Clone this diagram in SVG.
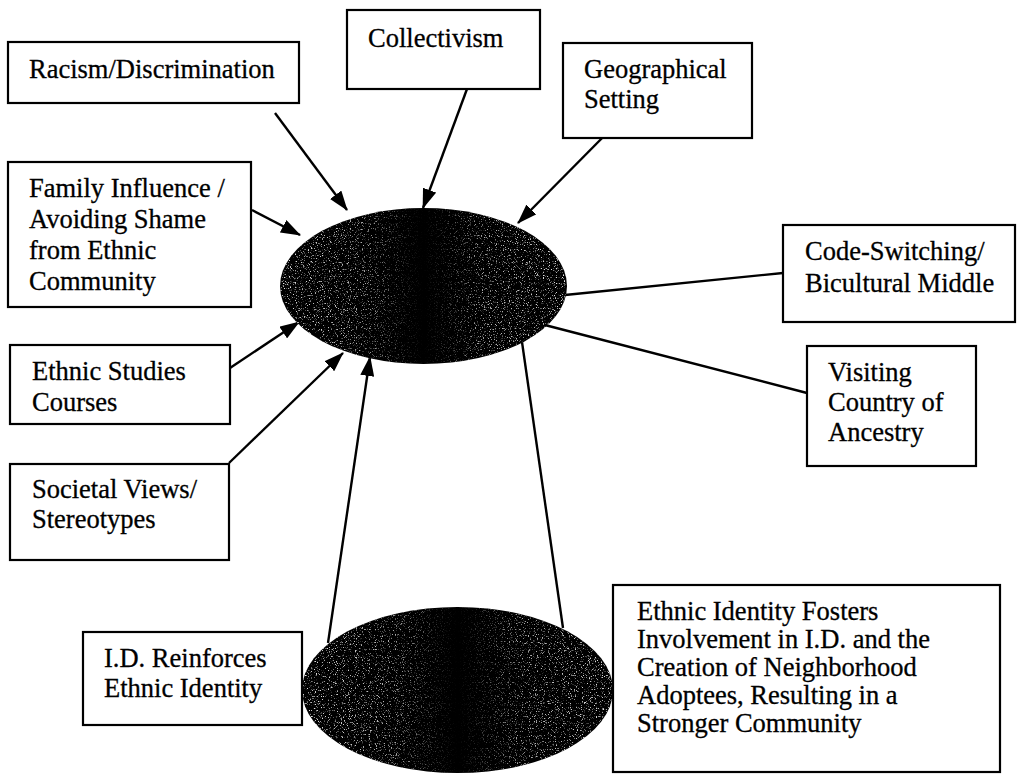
<svg xmlns="http://www.w3.org/2000/svg" width="1019" height="775" viewBox="0 0 1019 775">
<style>
  .box { fill: #ffffff; stroke: #000000; stroke-width: 2.2; }
  .lbl { font-family: "Liberation Serif", "Times New Roman", serif; font-size: 26.5px; fill: #000000; stroke: #000000; stroke-width: 0.3; }
  .con { stroke: #000000; stroke-width: 2.4; fill: none; }
  .arr { marker-end: url(#head); }
</style>
<defs>
  <marker id="head" viewBox="0 0 20 14" refX="19" refY="7" markerWidth="20" markerHeight="14" markerUnits="userSpaceOnUse" orient="auto">
    <path d="M0,0 L20,7 L0,14 z" fill="#000000"/>
  </marker>
  <linearGradient id="side" x1="0" y1="0" x2="1" y2="0">
    <stop offset="0" stop-color="#ffffff"/>
    <stop offset="0.3" stop-color="#bbbbbb"/>
    <stop offset="0.5" stop-color="#000000"/>
    <stop offset="0.7" stop-color="#bbbbbb"/>
    <stop offset="1" stop-color="#ffffff"/>
  </linearGradient>
  <mask id="sideMask" maskContentUnits="objectBoundingBox">
    <rect x="0" y="0" width="1" height="1" fill="url(#side)"/>
  </mask>
  <filter id="grain" x="0" y="0" width="100%" height="100%">
    <feTurbulence type="fractalNoise" baseFrequency="0.85" numOctaves="2" seed="7" result="t"/>
    <feColorMatrix in="t" type="matrix" values="0 0 0 0 0.8  0 0 0 0 0.8  0 0 0 0 0.8  6 0 0 0 -3.5" result="s"/>
    <feComposite in="s" in2="SourceGraphic" operator="in"/>
  </filter>
</defs>

<g id="connectors">
  <line class="con arr" x1="275" y1="113" x2="347" y2="210"/>
  <line class="con arr" x1="467" y1="89" x2="423" y2="208"/>
  <line class="con arr" x1="613" y1="127" x2="518" y2="223"/>
  <line class="con arr" x1="252" y1="210" x2="300" y2="235"/>
  <line class="con arr" x1="230" y1="368" x2="299" y2="322"/>
  <line class="con arr" x1="229" y1="463" x2="343" y2="353"/>
  <line class="con arr" x1="328" y1="643" x2="370" y2="357"/>
  <line class="con" x1="563" y1="628" x2="522" y2="342"/>
  <line class="con" x1="565" y1="295" x2="783" y2="273"/>
  <line class="con" x1="541" y1="324" x2="807" y2="393"/>
</g>

<g id="ethnic-identity-top">
  <ellipse cx="423.5" cy="286" rx="143.5" ry="78" fill="#000000"/>
  <g mask="url(#sideMask)">
    <ellipse cx="423.5" cy="286" rx="143.5" ry="78" fill="#000000" filter="url(#grain)"/>
  </g>
</g>

<g id="community-bottom">
  <ellipse cx="457.5" cy="690" rx="155.5" ry="83" fill="#000000"/>
  <g mask="url(#sideMask)">
    <ellipse cx="457.5" cy="690" rx="155.5" ry="83" fill="#000000" filter="url(#grain)"/>
  </g>
</g>

<g id="racism">
  <rect class="box" x="8" y="42" width="291" height="61"/>
  <text class="lbl" x="29" y="78">Racism/Discrimination</text>
</g>

<g id="collectivism">
  <rect class="box" x="347" y="10" width="193" height="79"/>
  <text class="lbl" x="368" y="47">Collectivism</text>
</g>

<g id="geographical">
  <rect class="box" x="563" y="43" width="189" height="95"/>
  <text class="lbl" x="584" y="78">Geographical</text>
  <text class="lbl" x="584" y="108">Setting</text>
</g>

<g id="family">
  <rect class="box" x="8" y="162" width="243" height="145"/>
  <text class="lbl" x="29" y="197">Family Influence /</text>
  <text class="lbl" x="29" y="228">Avoiding Shame</text>
  <text class="lbl" x="29" y="259">from Ethnic</text>
  <text class="lbl" x="29" y="290">Community</text>
</g>

<g id="ethnic-studies">
  <rect class="box" x="10" y="345" width="220" height="79"/>
  <text class="lbl" x="32" y="380">Ethnic Studies</text>
  <text class="lbl" x="32" y="411">Courses</text>
</g>

<g id="societal">
  <rect class="box" x="10" y="464" width="219" height="96"/>
  <text class="lbl" x="32" y="498">Societal Views/</text>
  <text class="lbl" x="32" y="528">Stereotypes</text>
</g>

<g id="id-reinforces">
  <rect class="box" x="83" y="632" width="219" height="93"/>
  <text class="lbl" x="104" y="667">I.D. Reinforces</text>
  <text class="lbl" x="104" y="697">Ethnic Identity</text>
</g>

<g id="code-switching">
  <rect class="box" x="783" y="225" width="232" height="97"/>
  <text class="lbl" x="805" y="260">Code-Switching/</text>
  <text class="lbl" x="805" y="292">Bicultural Middle</text>
</g>

<g id="visiting">
  <rect class="box" x="807" y="346" width="169" height="120"/>
  <text class="lbl" x="828" y="381">Visiting</text>
  <text class="lbl" x="828" y="411">Country of</text>
  <text class="lbl" x="828" y="441">Ancestry</text>
</g>

<g id="fosters">
  <rect class="box" x="613" y="585" width="387" height="187"/>
  <text class="lbl" x="637" y="620">Ethnic Identity Fosters</text>
  <text class="lbl" x="637" y="648">Involvement in I.D. and the</text>
  <text class="lbl" x="637" y="676">Creation of Neighborhood</text>
  <text class="lbl" x="637" y="704">Adoptees, Resulting in a</text>
  <text class="lbl" x="637" y="732">Stronger Community</text>
</g>
</svg>
